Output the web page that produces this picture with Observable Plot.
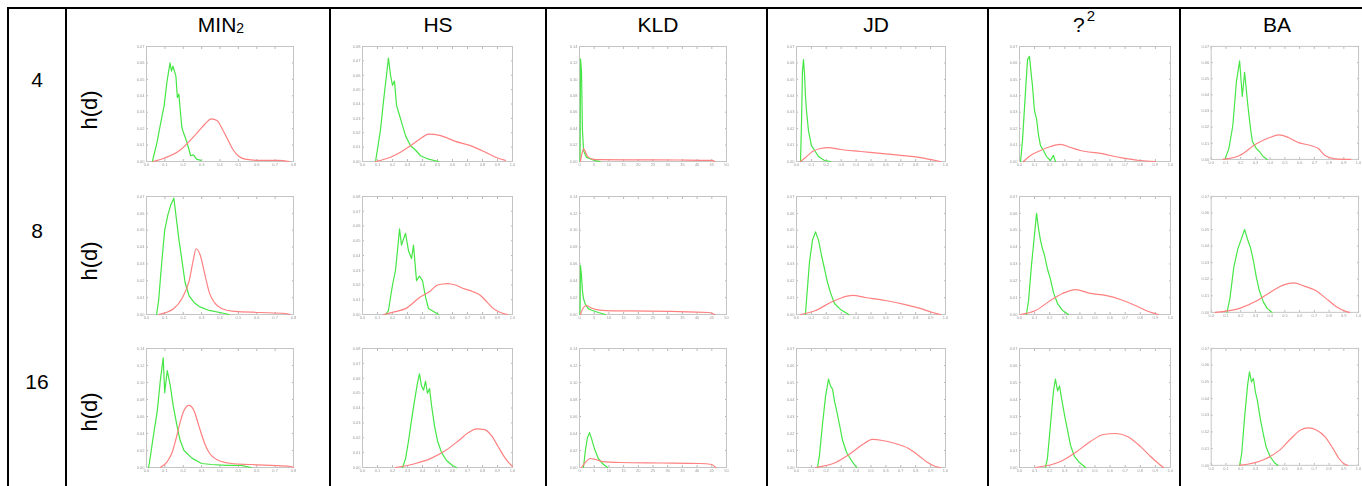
<!DOCTYPE html>
<html><head><meta charset="utf-8">
<script src="https://cdn.jsdelivr.net/npm/d3@7"></script>
<script src="https://cdn.jsdelivr.net/npm/@observablehq/plot@0.6"></script>
<style>
html,body{margin:0;padding:0;background:#fff;}
#page{position:relative;width:1362px;height:486px;overflow:hidden;font-family:"Liberation Sans",Arial,sans-serif;color:#000;}
.vl{position:absolute;top:7px;height:490px;width:2px;background:#000;}
.hl{position:absolute;left:7px;width:1360px;height:2px;background:#000;}
.txt{position:absolute;white-space:nowrap;line-height:1;}
.cell{position:absolute;}
.cell svg{display:block;overflow:visible;filter:blur(0.35px);}
</style></head>
<body><div id="page"></div>
<script>
// ---- categories / labels ----
const measures = ["MIN<span style='font-size:14px;position:relative;top:1px'>2</span>", "HS", "KLD", "JD", "?<span style='font-size:15px;position:relative;top:-11px;margin-left:2px'>2</span>", "BA"];
const binCounts = ["4", "8", "16"];
const yLabel = "h(d)";
// x-axis upper bounds per measure, y-axis upper bounds per row x measure
const xMax = [0.8, 1, 50, 1, 1, 1];
const yMax = [
  [0.07, 0.08, 0.14, 0.07, 0.07, 0.07],
  [0.07, 0.08, 0.14, 0.07, 0.07, 0.07],
  [0.14, 0.08, 0.14, 0.07, 0.07, 0.07]
];

// ---- series: green = same-class, red = different-class histograms ----
// rows: 4 bins
const g_MIN2_4 = [[0.032,0],[0.056,0.011],[0.08,0.025],[0.096,0.034],[0.112,0.049],[0.128,0.060],[0.136,0.055],[0.144,0.058],[0.16,0.052],[0.168,0.039],[0.176,0.041],[0.192,0.021],[0.2,0.018],[0.216,0.013],[0.232,0.007],[0.24,0.0035],[0.256,0.004],[0.272,0.0014],[0.296,0.0007]];
const r_MIN2_4 = [[0.036,0],[0.096,0.002],[0.184,0.007],[0.272,0.017],[0.32,0.023],[0.352,0.026],[0.384,0.025],[0.416,0.019],[0.448,0.012],[0.472,0.007],[0.504,0.003],[0.536,0.0014],[0.6,0.0007],[0.72,0.0007],[0.776,0]];
const g_HS_4 = [[0.087,0],[0.12,0.022],[0.14,0.042],[0.16,0.060],[0.173,0.072],[0.187,0.060],[0.2,0.053],[0.213,0.056],[0.227,0.039],[0.247,0.032],[0.267,0.025],[0.287,0.018],[0.32,0.011],[0.353,0.008],[0.387,0.004],[0.44,0.0016],[0.507,0]];
const r_HS_4 = [[0.087,0],[0.187,0.003],[0.253,0.0064],[0.32,0.011],[0.387,0.016],[0.44,0.019],[0.52,0.018],[0.62,0.014],[0.72,0.011],[0.82,0.0064],[0.887,0.003],[0.953,0.0008]];
const g_KLD_4 = [[0.2,0],[0.34,0.125],[0.68,0.11],[1.0,0.038],[1.4,0.013],[2.4,0.005],[5.4,0.001],[7,0]];
const r_KLD_4 = [[0.3,0],[0.8,0.009],[1.4,0.0154],[2.6,0.007],[4.3,0.003],[7,0.0022],[20,0.002],[34,0.0018],[45,0.0014],[46,0]];
const g_JD_4 = [[0.027,0],[0.034,0.025],[0.04,0.055],[0.047,0.062],[0.054,0.053],[0.06,0.040],[0.067,0.031],[0.08,0.019],[0.1,0.0097],[0.12,0.007],[0.148,0.003],[0.188,0.0006],[0.228,0]];
const r_JD_4 = [[0.027,0],[0.06,0.0024],[0.107,0.0061],[0.16,0.0079],[0.215,0.0085],[0.295,0.0073],[0.43,0.0061],[0.564,0.0049],[0.7,0.0037],[0.83,0.0024],[0.933,0.0006],[0.966,0]];
const g_CHI_4 = [[0.007,0],[0.02,0.013],[0.04,0.043],[0.053,0.062],[0.066,0.064],[0.079,0.052],[0.086,0.046],[0.099,0.031],[0.113,0.026],[0.126,0.016],[0.139,0.0097],[0.159,0.0067],[0.179,0.003],[0.205,0.0006],[0.225,0.0037],[0.238,0]];
const r_CHI_4 = [[0.026,0],[0.073,0.0037],[0.139,0.0067],[0.205,0.0091],[0.272,0.0104],[0.338,0.0085],[0.404,0.0067],[0.536,0.0049],[0.669,0.0024],[0.8,0.0006],[0.9,0]];
const g_BA_4 = [[0.093,0],[0.12,0.0067],[0.147,0.021],[0.171,0.048],[0.193,0.061],[0.211,0.039],[0.227,0.054],[0.247,0.035],[0.267,0.019],[0.28,0.011],[0.307,0.0067],[0.327,0.0049],[0.353,0.0018],[0.38,0]];
const r_BA_4 = [[0.08,0],[0.193,0.0024],[0.307,0.0097],[0.393,0.0134],[0.46,0.0152],[0.527,0.0134],[0.593,0.0104],[0.68,0.0085],[0.727,0.0067],[0.773,0.0024],[0.84,0.0003],[0.947,0]];
// rows: 8 bins
const g_MIN2_8 = [[0.055,0],[0.066,0.0083],[0.083,0.031],[0.099,0.050],[0.116,0.059],[0.132,0.065],[0.149,0.069],[0.16,0.059],[0.177,0.044],[0.193,0.032],[0.21,0.019],[0.232,0.011],[0.26,0.007],[0.287,0.0047],[0.342,0.0024],[0.425,0.0006],[0.45,0]];
const r_MIN2_8 = [[0.066,0],[0.149,0.0036],[0.193,0.0095],[0.232,0.02],[0.254,0.032],[0.27,0.039],[0.293,0.035],[0.315,0.025],[0.342,0.013],[0.37,0.007],[0.408,0.0036],[0.48,0.0018],[0.618,0.0012],[0.756,0.0006],[0.78,0]];
const g_HS_8 = [[0.153,0],[0.173,0.0027],[0.2,0.020],[0.22,0.030],[0.233,0.043],[0.247,0.058],[0.26,0.047],[0.273,0.051],[0.287,0.055],[0.307,0.043],[0.327,0.038],[0.34,0.047],[0.36,0.023],[0.38,0.026],[0.4,0.023],[0.42,0.012],[0.44,0.004],[0.473,0.002],[0.507,0]];
const r_HS_8 = [[0.14,0],[0.22,0.002],[0.287,0.004],[0.387,0.012],[0.453,0.016],[0.5,0.020],[0.567,0.021],[0.62,0.020],[0.673,0.0176],[0.733,0.0156],[0.787,0.0129],[0.833,0.0081],[0.873,0.004],[0.92,0.0014],[0.967,0]];
const g_KLD_8 = [[0.17,0],[0.34,0.058],[0.68,0.046],[1.0,0.028],[1.35,0.019],[2.0,0.012],[3.0,0.007],[4.4,0.0048],[6.4,0.0024],[8.8,0]];
const r_KLD_8 = [[0.34,0],[1.35,0.0083],[2.4,0.0107],[3.7,0.0083],[5.4,0.006],[8.8,0.0047],[17,0.0042],[31,0.0036],[44,0.0024],[46,0]];
const g_JD_8 = [[0.06,0],[0.067,0.0083],[0.087,0.031],[0.107,0.044],[0.128,0.049],[0.148,0.044],[0.168,0.035],[0.188,0.027],[0.208,0.019],[0.228,0.013],[0.255,0.0065],[0.295,0.003],[0.35,0]];
const r_JD_8 = [[0.027,0],[0.128,0.0024],[0.228,0.0071],[0.309,0.0101],[0.376,0.0113],[0.463,0.0101],[0.597,0.0083],[0.73,0.0059],[0.83,0.0036],[0.913,0.0012],[0.966,0]];
const g_CHI_8 = [[0.046,0],[0.06,0.0083],[0.079,0.029],[0.099,0.047],[0.113,0.060],[0.126,0.051],[0.139,0.044],[0.152,0.039],[0.166,0.035],[0.185,0.027],[0.205,0.021],[0.225,0.013],[0.252,0.0065],[0.285,0.0024],[0.325,0]];
const r_CHI_8 = [[0.007,0],[0.106,0.0024],[0.205,0.0083],[0.285,0.0125],[0.371,0.0148],[0.47,0.0125],[0.57,0.0113],[0.669,0.0089],[0.768,0.0053],[0.854,0.0018],[0.92,0]];
const g_BA_8 = [[0.107,0],[0.127,0.0083],[0.153,0.027],[0.18,0.038],[0.207,0.045],[0.227,0.050],[0.247,0.044],[0.267,0.039],[0.287,0.031],[0.307,0.021],[0.327,0.013],[0.353,0.0065],[0.38,0.0024],[0.413,0]];
const r_BA_8 = [[0.027,0],[0.193,0.0024],[0.313,0.0071],[0.407,0.0125],[0.493,0.0166],[0.56,0.0178],[0.627,0.016],[0.713,0.013],[0.78,0.0083],[0.847,0.0036],[0.913,0.0006],[0.94,0]];
// rows: 16 bins
const g_MIN2_16 = [[0.011,0],[0.016,0.0056],[0.038,0.038],[0.059,0.067],[0.075,0.102],[0.091,0.129],[0.099,0.088],[0.113,0.114],[0.129,0.097],[0.145,0.073],[0.166,0.049],[0.183,0.032],[0.204,0.020],[0.247,0.011],[0.3,0.0047],[0.354,0.0035],[0.435,0.0024],[0.515,0.0024],[0.569,0]];
const r_MIN2_16 = [[0.075,0],[0.113,0.007],[0.14,0.018],[0.161,0.034],[0.183,0.053],[0.204,0.067],[0.231,0.073],[0.258,0.067],[0.285,0.049],[0.317,0.028],[0.344,0.0165],[0.37,0.011],[0.408,0.007],[0.462,0.0047],[0.569,0.0035],[0.676,0.0024],[0.784,0.0012],[0.8,0]];
const g_HS_16 = [[0.267,0],[0.287,0.006],[0.307,0.018],[0.327,0.032],[0.347,0.045],[0.367,0.057],[0.38,0.063],[0.393,0.055],[0.407,0.052],[0.42,0.058],[0.433,0.050],[0.447,0.053],[0.46,0.042],[0.48,0.028],[0.5,0.018],[0.527,0.010],[0.56,0.0047],[0.6,0.0013],[0.627,0]];
const r_HS_16 = [[0.22,0],[0.353,0.0027],[0.453,0.006],[0.553,0.0114],[0.64,0.018],[0.707,0.0235],[0.76,0.026],[0.813,0.0255],[0.86,0.0215],[0.9,0.0148],[0.94,0.008],[0.973,0.0034],[1.0,0.0007]];
const g_KLD_16 = [[1.35,0],[2.0,0.020],[2.7,0.035],[3.4,0.041],[4.1,0.034],[5.1,0.022],[6.4,0.0106],[7.8,0.0047],[9.5,0]];
const r_KLD_16 = [[0.68,0],[2.0,0.006],[3.7,0.0106],[5.4,0.0094],[7.8,0.007],[13.9,0.0059],[27.4,0.0053],[40.9,0.0047],[45,0.0035],[46.3,0]];
const g_JD_16 = [[0.141,0],[0.154,0.0071],[0.174,0.025],[0.195,0.042],[0.215,0.052],[0.228,0.048],[0.242,0.046],[0.255,0.039],[0.268,0.034],[0.289,0.025],[0.309,0.016],[0.336,0.0088],[0.369,0.0041],[0.403,0]];
const r_JD_16 = [[0.128,0],[0.262,0.0029],[0.362,0.0082],[0.443,0.0135],[0.51,0.0165],[0.577,0.0159],[0.664,0.0141],[0.752,0.0112],[0.819,0.0071],[0.88,0.0029],[0.933,0.0006],[0.966,0]];
const g_CHI_16 = [[0.172,0],[0.185,0.0053],[0.205,0.025],[0.225,0.045],[0.238,0.052],[0.252,0.045],[0.265,0.048],[0.278,0.041],[0.298,0.031],[0.318,0.022],[0.338,0.013],[0.364,0.0065],[0.397,0.0029],[0.437,0]];
const r_CHI_16 = [[0.106,0],[0.272,0.0035],[0.371,0.0088],[0.47,0.0153],[0.556,0.0194],[0.636,0.02],[0.715,0.0182],[0.8,0.0124],[0.868,0.0065],[0.92,0.0024],[0.954,0]];
const g_BA_16 = [[0.193,0],[0.207,0.0071],[0.227,0.029],[0.247,0.048],[0.26,0.056],[0.273,0.050],[0.287,0.052],[0.3,0.044],[0.313,0.039],[0.333,0.028],[0.353,0.019],[0.373,0.011],[0.4,0.0053],[0.433,0.0012],[0.453,0]];
const r_BA_16 = [[0.193,0],[0.36,0.0035],[0.46,0.0088],[0.54,0.0159],[0.607,0.0212],[0.66,0.0224],[0.713,0.0212],[0.773,0.0171],[0.827,0.01],[0.867,0.0041],[0.907,0.0006],[0.927,0]];

const greens = [
  [g_MIN2_4, g_HS_4, g_KLD_4, g_JD_4, g_CHI_4, g_BA_4],
  [g_MIN2_8, g_HS_8, g_KLD_8, g_JD_8, g_CHI_8, g_BA_8],
  [g_MIN2_16, g_HS_16, g_KLD_16, g_JD_16, g_CHI_16, g_BA_16]
];
const reds = [
  [r_MIN2_4, r_HS_4, r_KLD_4, r_JD_4, r_CHI_4, r_BA_4],
  [r_MIN2_8, r_HS_8, r_KLD_8, r_JD_8, r_CHI_8, r_BA_8],
  [r_MIN2_16, r_HS_16, r_KLD_16, r_JD_16, r_CHI_16, r_BA_16]
];

// ---- layout ----
const page = document.getElementById("page");
const vLines = [7, 65, 329, 545, 766, 987, 1179];
const hLines = [7];
const headerX = [221, 438, 658, 876, 1084, 1277];
const rowLabelY = [87, 238, 389];
const hdY = [110, 261, 412];
const boxLeft = [146, 362, 579, 796, 1019, 1211];
const boxW = [147, 150, 147, 149, 151, 150];
const boxTop = [46, 196, 348];
const boxH = [115, 118, 119];
const GREEN = "#45e645", RED = "#ff8080";

function el(cls, css, html) {
  const d = document.createElement("div");
  d.className = cls; Object.assign(d.style, css);
  if (html != null) d.innerHTML = html;
  page.appendChild(d); return d;
}
vLines.forEach(x => el("vl", {left: x + "px"}));
hLines.forEach(y => el("hl", {top: y + "px"}));
const FS = 21;
measures.forEach((m, i) => el("txt", {left: headerX[i] + "px", top: (31.5 - 0.847 * FS) + "px", fontSize: FS + "px", transform: "translateX(-50%)"}, m));
binCounts.forEach((b, r) => el("txt", {left: "37px", top: (rowLabelY[r] - 0.847 * FS) + "px", fontSize: FS + "px", transform: "translateX(-50%)"}, b));
binCounts.forEach((b, r) => el("txt", {left: "90px", top: hdY[r] + "px", fontSize: "22px", transform: "translate(-50%,-50%) rotate(-90deg)"}, yLabel));

const ML = 18, MR = 4, MT = 4, MB = 9;
for (let r = 0; r < 3; r++) {
  for (let c = 0; c < 6; c++) {
    const xm = xMax[c], ym = yMax[r][c];
    const xt = c === 0 ? 8 : 10;
    const yt = Math.round(ym / (ym >= 0.1 ? 0.02 : 0.01));
    const chart = Plot.plot({
      width: boxW[c] + ML + MR, height: boxH[r] + MT + MB,
      marginLeft: ML, marginRight: MR, marginTop: MT, marginBottom: MB,
      style: {fontSize: "4px", fontFamily: "Liberation Sans, Arial, sans-serif", background: "transparent", overflow: "visible"},
      x: {domain: [0, xm], ticks: xt, label: null},
      y: {domain: [0, ym], ticks: yt, label: null},
      marks: [
        Plot.axisX({anchor: "bottom", ticks: xt, tickSize: -2, tickPadding: 4, stroke: "#b8b8b8", fill: "#9a9a9a", label: null}),
        Plot.axisX({anchor: "top", ticks: xt, tickSize: -2, stroke: "#b8b8b8", fill: "none", label: null}),
        Plot.axisY({anchor: "left", ticks: yt, tickSize: -2, tickPadding: 4, stroke: "#b8b8b8", fill: "#9a9a9a", label: null}),
        Plot.axisY({anchor: "right", ticks: yt, tickSize: -2, stroke: "#b8b8b8", fill: "none", label: null}),
        Plot.frame({stroke: "#c4c4c4"}),
        Plot.line(greens[r][c], {stroke: GREEN, strokeWidth: 1.2}),
        Plot.line(reds[r][c], {stroke: RED, strokeWidth: 1.2, curve: "monotone-x"})
      ]
    });
    const holder = el("cell", {left: (boxLeft[c] - ML) + "px", top: (boxTop[r] - MT) + "px"});
    holder.appendChild(chart);
  }
}
</script></body></html>
